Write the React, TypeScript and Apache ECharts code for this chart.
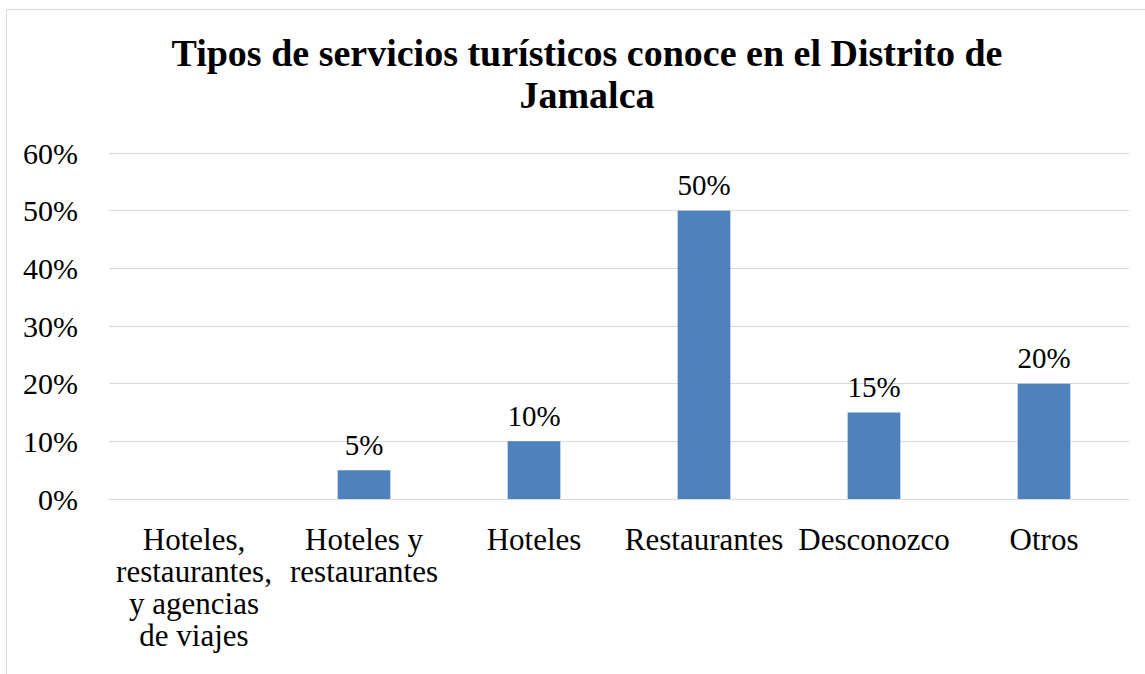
import React, { useEffect, useRef } from "react";
import * as echarts from "echarts";

const categories = [
  "Hoteles,\nrestaurantes,\ny agencias\nde viajes",
  "Hoteles y\nrestaurantes",
  "Hoteles",
  "Restaurantes",
  "Desconozco",
  "Otros",
];
const values = [0, 5, 10, 50, 15, 20];
const titleText = "Tipos de servicios turísticos conoce en el Distrito de\nJamalca";

export default function App() {
  const ref = useRef<HTMLDivElement>(null);
  useEffect(() => {
    const chart = echarts.init(ref.current!, null, { renderer: "svg" });
    const font = "Liberation Serif";
    chart.setOption({
      animation: false,
      backgroundColor: "#ffffff",
      textStyle: { fontFamily: font },
      graphic: [
        {
          type: "rect",
          shape: { x: 6.5, y: 9.5, width: 1200, height: 800 },
          style: { fill: "none", stroke: "#d9d9d9", lineWidth: 1 },
          silent: true,
        },
      ],
      title: {
        text: titleText,
        left: 582,
        textAlign: "center",
        top: 27,
        textStyle: {
          fontFamily: font,
          fontWeight: "bold",
          fontSize: 38,
          lineHeight: 42,
          color: "#000",
        },
      },
      grid: { left: 109, right: 16, top: 153, bottom: 175, containLabel: false },
      xAxis: {
        type: "category",
        data: categories,
        axisLine: { show: true, lineStyle: { color: "#d9d9d9", width: 1 } },
        axisTick: { show: false },
        axisLabel: {
          interval: 0,
          fontFamily: font,
          fontSize: 31,
          lineHeight: 32,
          color: "#000",
          margin: 24,
          align: "center",
        },
      },
      yAxis: {
        type: "value",
        min: 0,
        max: 60,
        interval: 10,
        axisLine: { show: false },
        axisTick: { show: false },
        splitLine: { lineStyle: { color: "#d9d9d9", width: 1 } },
        axisLabel: {
          formatter: "{value}%",
          fontFamily: font,
          fontSize: 30,
          color: "#000",
          margin: 31,
        },
      },
      series: [
        {
          type: "bar",
          data: values,
          barWidth: "31%",
          itemStyle: { color: "#4F81BD" },
          label: {
            show: true,
            position: "top",
            distance: 11,
            fontFamily: font,
            fontSize: 29,
            color: "#000",
            formatter: (p: any) => (p.value === 0 ? "" : p.value + "%"),
          },
        },
      ],
    });
    return () => chart.dispose();
  }, []);
  return (
    <div
      ref={ref}
      style={{ position: "fixed", left: 0, top: 0, width: 1145, height: 674 }}
    />
  );
}
